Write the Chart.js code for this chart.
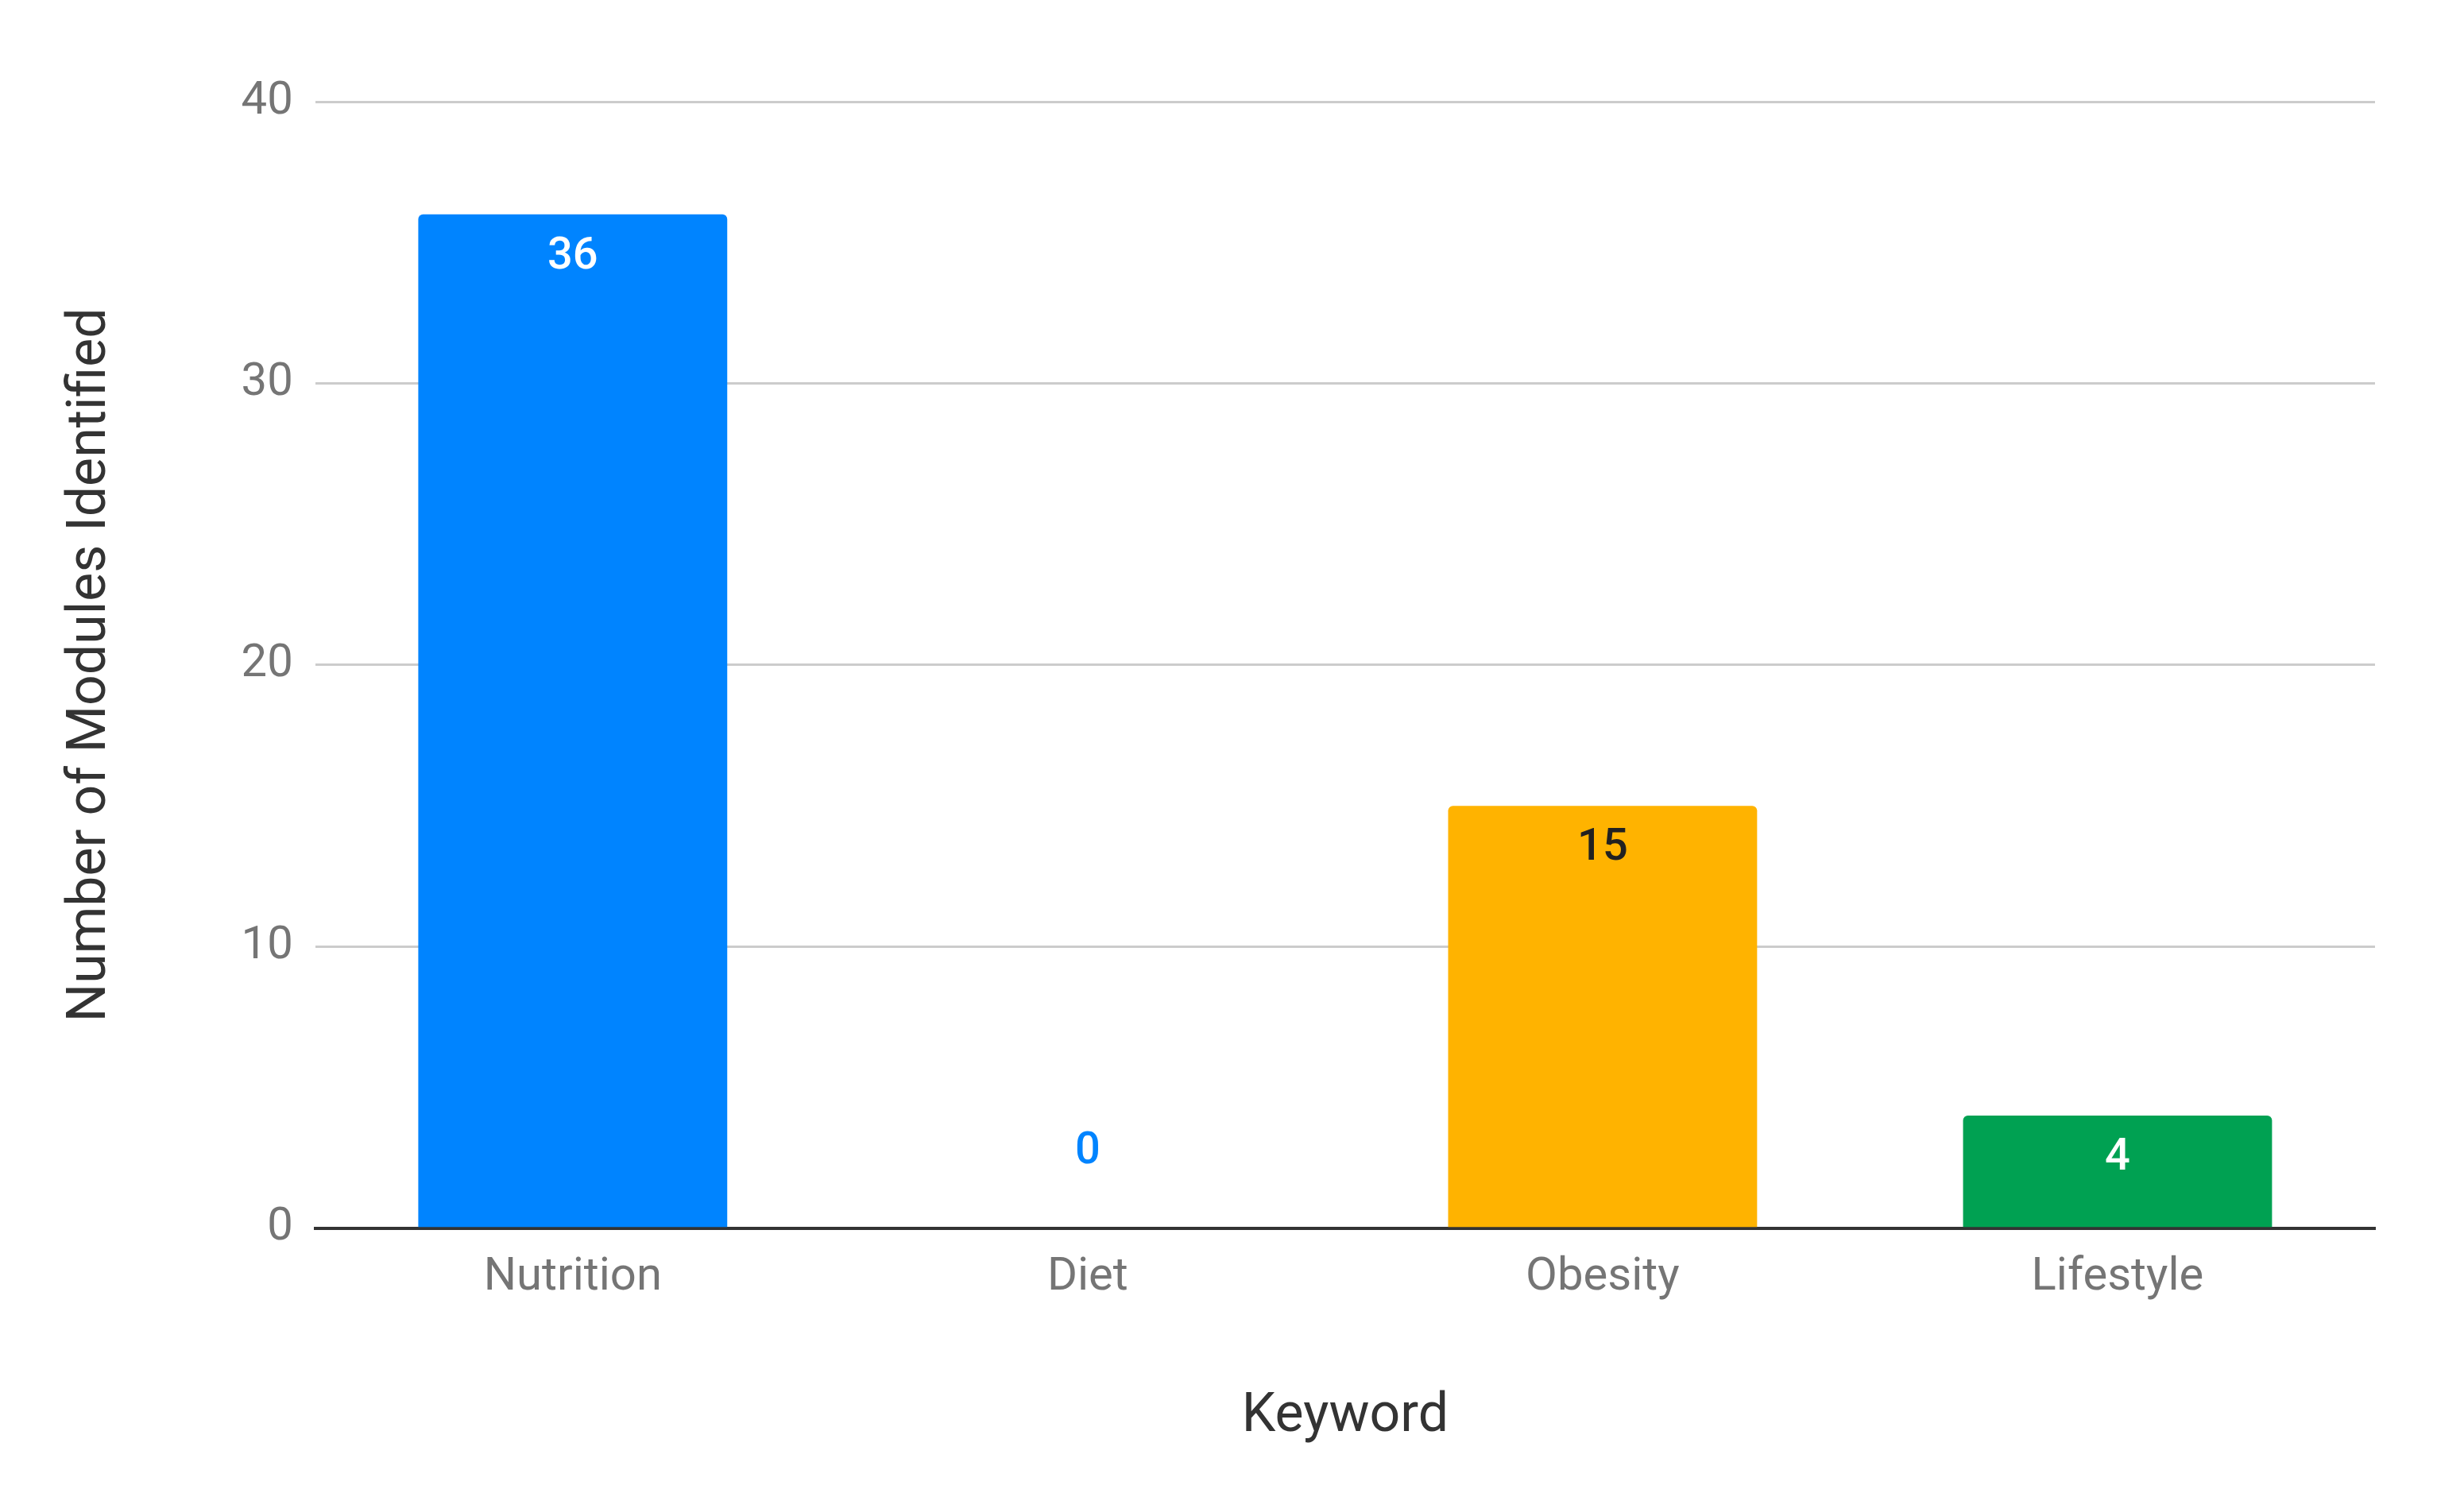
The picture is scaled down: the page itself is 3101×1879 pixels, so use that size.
<!DOCTYPE html>
<html>
<head>
<meta charset="utf-8">
<script src="https://cdn.jsdelivr.net/npm/chart.js@4"></script>
<style>
  html, body { margin: 0; padding: 0; background: #fff; }
  #wrap { width: 3101px; height: 1879px; }
</style>
</head>
<body>
<div id="wrap"><canvas id="chart" width="3101" height="1879"></canvas></div>
<script>
const categories = ['Nutrition', 'Diet', 'Obesity', 'Lifestyle'];
const moduleCounts = [36, 0, 15, 4];
const barColors = ['#0084FF', '#0084FF', '#FFB300', '#00A152'];
const labelColors = ['#ffffff', '#0084FF', '#212121', '#ffffff'];
const yTicks = [0, 10, 20, 30, 40];

// draws the value labels just inside the top of each bar
const valueLabels = {
    id: 'valueLabels',
    afterDatasetsDraw(chart) {
        const ctx = chart.ctx;
        const meta = chart.getDatasetMeta(0);
        ctx.save();
        ctx.font = '500 56px Roboto';
        ctx.textAlign = 'center';
        ctx.textBaseline = 'middle';
        meta.data.forEach((bar, i) => {
            ctx.fillStyle = labelColors[i];
            let y = bar.y + 54;
            if (moduleCounts[i] === 0) y = bar.y - 96;
            ctx.fillText(moduleCounts[i], bar.x, y);
        });
        ctx.restore();
    }
};

new Chart(document.getElementById('chart'), {
    type: 'bar',
    data: {
        labels: categories,
        datasets: [{
            data: moduleCounts,
            backgroundColor: barColors,
            borderRadius: { topLeft: 6, topRight: 6 },
            borderSkipped: 'bottom',
            categoryPercentage: 0.6,
            barPercentage: 1.0
        }]
    },
    options: {
        responsive: false,
        animation: false,
        devicePixelRatio: 1,
        layout: { padding: { left: 70, right: 112, top: 128, bottom: 50 } },
        plugins: { legend: { display: false }, tooltip: { enabled: false } },
        scales: {
            x: {
                grid: { display: false },
                border: { color: '#333333', width: 4 },
                ticks: { color: '#757575', font: { family: 'Roboto', size: 58 }, padding: 20 },
                title: { display: true, text: 'Keyword', color: '#333333',
                         font: { family: 'Roboto', size: 68 }, padding: { top: 80 } }
            },
            y: {
                min: 0, max: 40,
                afterBuildTicks(axis) { axis.ticks = yTicks.map(v => ({ value: v })); },
                grid: { color: '#cccccc', lineWidth: 3, drawTicks: false },
                border: { display: false },
                ticks: { color: '#757575', font: { family: 'Roboto', size: 58 }, padding: 28 },
                title: { display: true, text: 'Number of Modules Identified', color: '#333333',
                         font: { family: 'Roboto', size: 68 }, padding: { bottom: 120 } }
            }
        }
    },
    plugins: [valueLabels]
});
</script>
</body>
</html>
